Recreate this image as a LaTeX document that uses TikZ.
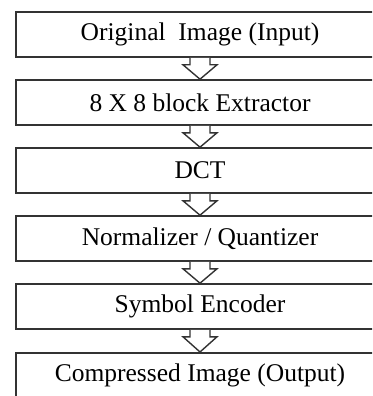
\documentclass[tikz,border=0pt]{standalone}
\usepackage{fontspec}
\setmainfont{Liberation Serif}
\usetikzlibrary{calc}
\begin{document}
\begin{tikzpicture}[x=1pt,y=-1pt,
  stagebox/.style={draw=black!80,line width=1.6pt,fill=white,
    minimum width=368pt,minimum height=45pt,inner sep=0pt,
    font=\fontsize{25.5}{28}\selectfont},
  flowarrow/.style={draw=black!80,line width=1.4pt,fill=white,line join=miter}]
\clip (0,0) rectangle (372,396);
\fill[white] (0,0) rectangle (372,396);
% processing stages, top to bottom
\node[stagebox] (orig)  at (200,34.5)  {Original\ \ Image (Input)};
\node[stagebox] (blk)   at (200,102.5) {8 X 8 block Extractor};
\node[stagebox] (dct)   at (200,170.5) {DCT};
\node[stagebox] (quant) at (200,238.5) {Normalizer / Quantizer};
\node[stagebox] (enc)   at (200,306.5) {Symbol Encoder};
\node[stagebox,text height=18pt,text depth=5pt,anchor=north] (out) at (200,352)
  {\raisebox{0pt}[0pt][0pt]{}Compressed Image (Output)};
% hollow block arrows between consecutive stages
\foreach \a/\b in {orig/blk,blk/dct,dct/quant,quant/enc,enc/out}{
  \path[flowarrow] ($(\a.south)+(-10,0)$) -- ++(0,7) -- ++(-7,0)
    -- (\b.north) -- ($(\a.south)+(17,7)$) -- ++(-7,0) -- ++(0,-7);
}
\end{tikzpicture}
\end{document}
